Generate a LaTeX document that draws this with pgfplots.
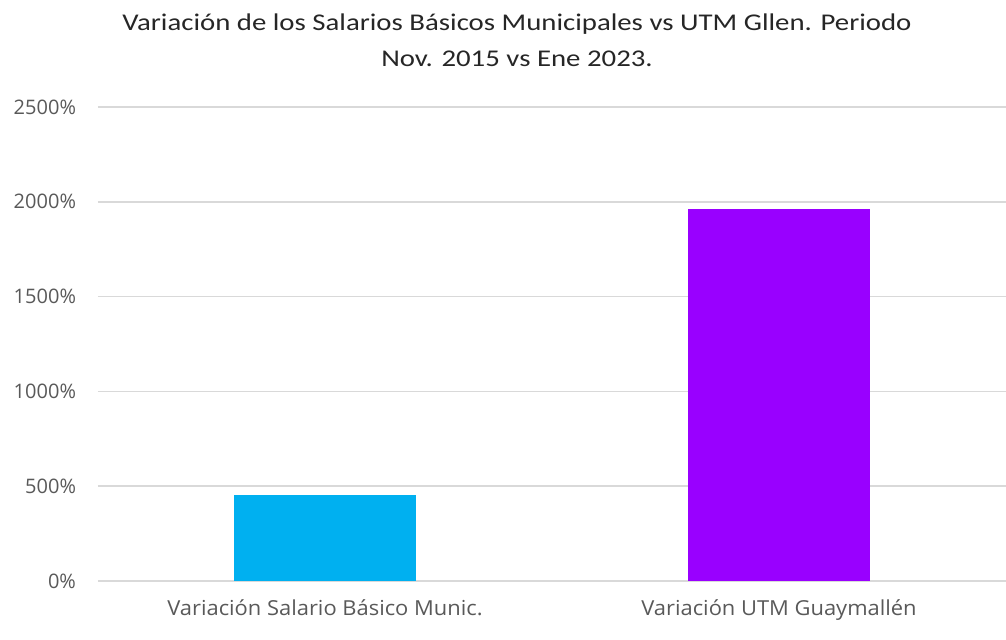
\documentclass[border=0pt]{standalone}
\usepackage{fontspec}
\setmainfont{Carlito}
\newfontfamily\titlefont[FakeStretch=1.2]{Carlito}
\newfontfamily\tickfont{Open Sans}
\newfontfamily\catfont[FakeStretch=1.06]{Open Sans}
\usepackage{pgfplots}
\pgfplotsset{compat=1.18}
\definecolor{barcyan}{HTML}{00B0F0}
\definecolor{barpurple}{HTML}{9900FF}
\definecolor{gridgray}{HTML}{D9D9D9}
\definecolor{ticktext}{HTML}{595959}
\definecolor{titletext}{HTML}{262626}

\begin{document}
\begin{tikzpicture}[x=0.75pt,y=0.75pt]
% whole picture 1006 x 639 px, plot area starts 98 px from left, 58 px from bottom
\path[use as bounding box] (-98,-58) rectangle (908,581);
\begin{axis}[
    at={(0,0)}, anchor=south west,
    scale only axis,
    width=681pt, height=355.5pt,
    ybar, bar shift=0pt, bar width=0.4,
    xmin=-0.5, xmax=1.5,
    ymin=0, ymax=2500,
    ytick={0,500,...,2500},
    xtick={0,1},
    xticklabels={Variación Salario Básico Munic., Variación UTM Guaymallén},
    axis line style={draw=none},
    axis x line*=bottom,
    x axis line style={draw=gridgray, line width=1.1pt},
    tick style={draw=none},
    ymajorgrids,
    grid style={gridgray, line width=1.1pt},
    /pgf/number format/assume math mode=true,
    /pgf/number format/1000 sep={},
    yticklabel={\pgfmathprintnumber[fixed,precision=0]{\tick}\%},
    yticklabel style={font=\tickfont\fontsize{15}{16}\selectfont, text=ticktext, xshift=-13pt},
    xticklabel style={font=\catfont\fontsize{15.5}{17}\selectfont, text=ticktext, yshift=-6pt},
]
\addplot[fill=barcyan, draw=none] coordinates {(0,451)};
\addplot[fill=barpurple, draw=none] coordinates {(1,1961)};
\end{axis}
\node[align=center, text=titletext, font=\titlefont\fontsize{18}{27}\selectfont] at (419,541)
  {Variación de los Salarios Básicos Municipales vs UTM Gllen. Periodo\\Nov. 2015 vs Ene 2023.};
\end{tikzpicture}
\end{document}
